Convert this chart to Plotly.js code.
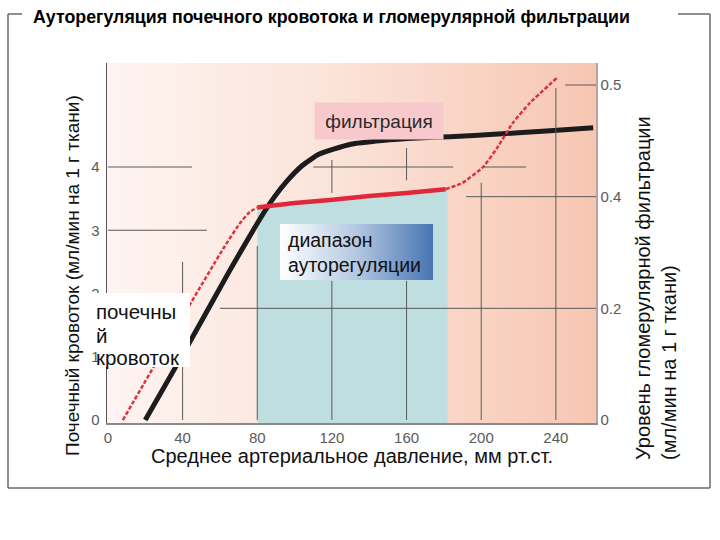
<!DOCTYPE html>
<html>
<head>
<meta charset="utf-8">
<script src="https://cdn.plot.ly/plotly-3.0.1.min.js"></script>
<style>html,body{margin:0;padding:0;background:#fff;}#chart{width:720px;height:540px;}</style>
</head>
<body>
<div id="chart"></div>
<script>
// ---- data ----
const titleText = 'Ауторегуляция почечного кровотока и гломерулярной фильтрации';
const xTitle = 'Среднее артериальное давление, мм рт.ст.';
const yTitle = 'Почечный кровоток (мл/мин на 1 г ткани)';
const y2Title = 'Уровень гломерулярной фильтрации<br>(мл/мин на 1 г ткани)';
const labelFiltration = 'фильтрация';
const labelRange = 'диапазон<br>ауторегуляции';
const labelFlowLines = ['почечны', 'й', 'кровоток'];

const xTickVals = [0, 40, 80, 120, 160, 200, 240];
const xTickText = ['0', '40', '80', '120', '160', '200', '240'];
const yTickVals = [0, 1, 2, 3, 4];
const yTickText = ['0', '1', '2', '3', '4'];
const y2TickVals = [0, 0.2, 0.4, 0.6];
const y2TickText = ['0', '0.2', '0.4', '0.5'];

// black curve
const blackX = [20, 40, 65, 84, 89, 96, 104, 113, 130, 147, 166, 183, 209, 235, 260];
const blackY = [0, 1.03, 2.35, 3.3, 3.52, 3.78, 4.02, 4.2, 4.36, 4.42, 4.46, 4.48, 4.52, 4.57, 4.62];

// red curve: dashed low part, solid plateau, dashed high part
const redLowX = [8, 40, 62, 70.7, 76, 80];
const redLowY = [0, 1.63, 2.72, 3.11, 3.29, 3.36];
const redMidX = [80, 100, 119, 140, 160, 181];
const redMidY = [3.36, 3.43, 3.48, 3.54, 3.59, 3.65];
const redHighX = [181, 190, 201, 208.5, 217, 226, 241];
const redHighY = [3.65, 3.75, 4.0, 4.3, 4.7, 5.01, 5.42];

// autoregulation range (blue area under plateau)
const rangeX = [80, 100, 119, 140, 160, 182];
const rangeY = [3.36, 3.43, 3.48, 3.54, 3.59, 3.65];

// ---- layout helpers (pixel -> paper) ----
const W = 720, H = 540;
const px = v => v / W;
const py = v => (H - v) / H;
const yMin = -0.047, yMax = 5.644;

const blueX = rangeX.concat([rangeX[rangeX.length - 1], rangeX[0]]);
const blueY = rangeY.concat([yMin, yMin]);

const traces = [
  {x: blueX, y: blueY, type: 'scatter', mode: 'lines', fill: 'toself',
   fillcolor: '#bfdee0', line: {width: 0}, hoverinfo: 'skip'},
  {x: blackX, y: blackY, type: 'scatter', mode: 'lines',
   line: {color: '#1c1c1c', width: 5, shape: 'spline', smoothing: 0.5}},
  {x: redLowX, y: redLowY, type: 'scatter', mode: 'lines',
   line: {color: '#d9343f', width: 2.5, dash: '4px,2px', shape: 'spline', smoothing: 0.5}},
  {x: redMidX, y: redMidY, type: 'scatter', mode: 'lines',
   line: {color: '#e0283a', width: 4.5, shape: 'spline', smoothing: 0.5}},
  {x: redHighX, y: redHighY, type: 'scatter', mode: 'lines',
   line: {color: '#d9343f', width: 2.5, dash: '4px,2px', shape: 'spline', smoothing: 0.5}},
  {x: [0], y: [0], yaxis: 'y2', type: 'scatter', mode: 'markers',
   marker: {opacity: 0}, hoverinfo: 'skip'}
];

const gridColor = '#5a5a5a';
function hseg(y, x0, x1, yref) {
  return {type: 'line', xref: 'x', yref: yref || 'y', x0: x0, x1: x1, y0: y, y1: y,
          line: {color: gridColor, width: 1}, layer: 'above'};
}
function vseg(x, y0, y1) {
  return {type: 'line', xref: 'x', yref: 'y', x0: x, x1: x, y0: y0, y1: y1,
          line: {color: gridColor, width: 1}, layer: 'above'};
}
function frameLine(x0, y0, x1, y1) {
  return {type: 'line', xref: 'paper', yref: 'paper', x0: px(x0), y0: py(y0), x1: px(x1), y1: py(y1),
          line: {color: '#6a6a6a', width: 1.5}};
}
function whiteRect(x0, y0, x1, y1) {
  return {type: 'rect', xref: 'paper', yref: 'paper', x0: px(x0), y0: py(y0), x1: px(x1), y1: py(y1),
          fillcolor: '#ffffff', line: {width: 0}, layer: 'above'};
}

const shapes = [
  hseg(4, 0, 45), hseg(4, 110, 185), hseg(4, 201, 224),
  hseg(3, 0, 53),
  hseg(0.2, 60, 262, 'y2'), hseg(0.4, 192, 262, 'y2'), hseg(0.6, 245, 262, 'y2'),
  vseg(40, 0, 2.5), vseg(80, 0, 2.75),
  vseg(120, 0, 2.2), vseg(120, 3.59, 4.11),
  vseg(160, 0, 2.2), vseg(160, 3.79, 4.3),
  vseg(200, 0, 3.75), vseg(240, 0, 5.25),
  whiteRect(88, 293, 190, 346), whiteRect(101, 346, 190, 367),
  frameLine(8, 14, 22, 14), frameLine(678, 14, 710, 14),
  frameLine(8, 14, 8, 488), frameLine(710, 14, 710, 488), frameLine(8, 488, 710, 488)
];

const bgSvg = "<svg xmlns='http://www.w3.org/2000/svg' width='489' height='360' preserveAspectRatio='none'>" +
  "<defs><linearGradient id='g' x1='0' y1='0' x2='1' y2='0'>" +
  "<stop offset='0' stop-color='#fef4f1'/><stop offset='0.45' stop-color='#fbe4da'/><stop offset='1' stop-color='#f7c6b2'/>" +
  "</linearGradient></defs><rect width='489' height='360' fill='url(#g)'/></svg>";
const boxSvg = "<svg xmlns='http://www.w3.org/2000/svg' width='153' height='56' preserveAspectRatio='none'>" +
  "<defs><linearGradient id='b' x1='0' y1='0' x2='1' y2='0'>" +
  "<stop offset='0' stop-color='#ffffff'/><stop offset='0.5' stop-color='#b4c8e2'/><stop offset='1' stop-color='#4774b3'/>" +
  "</linearGradient></defs><rect width='153' height='56' fill='url(#b)'/></svg>";
const svgUri = s => 'data:image/svg+xml;charset=utf-8,' + encodeURIComponent(s);

const images = [
  {source: svgUri(bgSvg), xref: 'paper', yref: 'paper', x: px(107), y: py(63),
   sizex: 489 / W, sizey: 360 / H, xanchor: 'left', yanchor: 'top', sizing: 'stretch', layer: 'below'},
  {source: svgUri(boxSvg), xref: 'paper', yref: 'paper', x: px(280), y: py(224),
   sizex: 153 / W, sizey: 56 / H, xanchor: 'left', yanchor: 'top', sizing: 'stretch', layer: 'above'}
];

const FONT = 'Liberation Sans, Arial, sans-serif';
const flowLineY = [312, 335, 357];
const annotations = [
  {text: '<b>' + titleText + '</b>', xref: 'paper', yref: 'paper', x: px(31), y: py(17),
   xanchor: 'left', yanchor: 'middle', showarrow: false, font: {family: FONT, size: 17.8, color: '#000'}},
  {text: xTitle, xref: 'paper', yref: 'paper', x: px(352), y: py(456),
   xanchor: 'center', yanchor: 'middle', showarrow: false, font: {family: FONT, size: 20, color: '#111'}},
  {text: yTitle, xref: 'paper', yref: 'paper', x: px(72), y: py(276), textangle: -90,
   xanchor: 'center', yanchor: 'middle', showarrow: false, font: {family: FONT, size: 19, color: '#111'}},
  {text: y2Title, xref: 'paper', yref: 'paper', x: px(656), y: py(288), textangle: -90, align: 'left',
   xanchor: 'center', yanchor: 'middle', showarrow: false, font: {family: FONT, size: 20, color: '#111'}},
  {text: labelFiltration, xref: 'paper', yref: 'paper', x: px(379), y: py(121),
   xanchor: 'center', yanchor: 'middle', showarrow: false, width: 126, height: 34, borderpad: 1,
   bgcolor: '#f8c9cc', font: {family: FONT, size: 19, color: '#2a2a2a'}},
  {text: labelRange, xref: 'paper', yref: 'paper', x: px(286), y: py(252), align: 'left',
   xanchor: 'left', yanchor: 'middle', showarrow: false,
   font: {family: FONT, size: 19.5, color: '#111'}}
].concat(labelFlowLines.map((t, i) => ({
  text: t, xref: 'paper', yref: 'paper', x: px(94), y: py(flowLineY[i]),
  xanchor: 'left', yanchor: 'middle', showarrow: false,
  font: {family: FONT, size: 20.5, color: '#111'}
})));

const tickFont = {family: FONT, size: 15, color: '#5a5a5a'};
const layout = {
  width: W, height: H,
  margin: {l: 0, r: 0, t: 0, b: 0},
  paper_bgcolor: '#ffffff', plot_bgcolor: 'rgba(0,0,0,0)',
  showlegend: false,
  xaxis: {domain: [107 / W, 596 / W], range: [-0.5, 261.5], tickvals: xTickVals, ticktext: xTickText,
          showgrid: false, zeroline: false, showline: true, linecolor: '#8a8a8a', linewidth: 1.5,
          ticks: '', ticklen: 0, tickfont: tickFont, ticklabelstandoff: 0, fixedrange: true},
  yaxis: {domain: [py(423), py(63)], range: [yMin, yMax], tickvals: yTickVals, ticktext: yTickText,
          showgrid: false, zeroline: false, showline: true, linecolor: '#555', linewidth: 1.5,
          ticks: '', ticklen: 0, tickfont: tickFont, ticklabelstandoff: 3, fixedrange: true},
  yaxis2: {overlaying: 'y', side: 'right', range: [-0.0054, 0.6394], tickvals: y2TickVals, ticktext: y2TickText,
           showgrid: false, zeroline: false, showline: true, linecolor: '#b8a49c', linewidth: 1.5,
           ticks: '', ticklen: 0, tickfont: tickFont, ticklabelstandoff: 0, fixedrange: true},
  shapes: shapes,
  images: images,
  annotations: annotations
};

Plotly.newPlot('chart', traces, layout, {displayModeBar: false, staticPlot: true});
</script>
</body>
</html>
